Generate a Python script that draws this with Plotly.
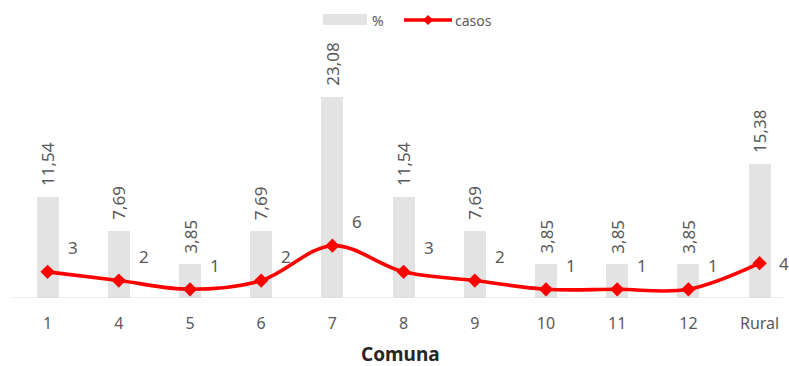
import plotly.graph_objects as go

comunas = ["1", "4", "5", "6", "7", "8", "9", "10", "11", "12", "Rural"]
pct = [11.54, 7.69, 3.85, 7.69, 23.08, 11.54, 7.69, 3.85, 3.85, 3.85, 15.38]
casos = [3, 2, 1, 2, 6, 3, 2, 1, 1, 1, 4]

def fmt(v):
    return f"{v:.2f}".replace(".", ",")

FONT = "Noto Sans"
GRAY = "#595959"
W, H = 789, 366
# plot area in page pixels
PL, PR, PT, PB = 12, 789, 40, 298
ML, MR, MT, MB = PL, W - PR, PT, H - PB
PW, PH = PR - PL, PB - PT
STEP = 71.2  # pixels per category

def px(x):
    return (x - PL) / PW

def py(y):
    return (PB - y) / PH

fig = go.Figure()
fig.add_trace(go.Bar(
    x=list(range(len(comunas))), y=pct, name="%",
    marker=dict(color="#e3e3e3", line=dict(width=0)),
    width=0.31, showlegend=False, hoverinfo="y",
))
fig.add_trace(go.Scatter(
    x=list(range(len(comunas))), y=casos, name="casos", mode="lines+markers",
    line=dict(color="#ff0000", width=3.6, shape="spline", smoothing=1),
    marker=dict(symbol="diamond", size=11, color="#ff0000"),
    cliponaxis=False, showlegend=False,
))
for i, v in enumerate(pct):
    fig.add_annotation(x=i, y=v, text=fmt(v), showarrow=False, textangle=-90,
                       xanchor="center", yanchor="bottom", yshift=9,
                       font=dict(family=FONT, size=17, color=GRAY))
for i, v in enumerate(casos):
    last = i == len(casos) - 1
    fig.add_annotation(x=i, y=v, text=str(v), showarrow=False,
                       xshift=17 if last else 25, yshift=0 if last else 24,
                       xanchor="left" if last else "center",
                       font=dict(family=FONT, size=17, color=GRAY))

# custom legend
fig.add_shape(type="rect", xref="paper", yref="paper",
              x0=px(323), x1=px(367), y0=py(25), y1=py(14),
              fillcolor="#e3e3e3", line=dict(width=0))
fig.add_annotation(xref="paper", yref="paper", x=px(370), y=py(20), text="%",
                   showarrow=False, xanchor="left", yanchor="middle",
                   font=dict(family=FONT, size=14, color=GRAY))
fig.add_shape(type="line", xref="paper", yref="paper",
              x0=px(404), x1=px(452), y0=py(20), y1=py(20),
              line=dict(color="#ff0000", width=3.6))
cx, cy, r = 428, 20, 5
fig.add_shape(type="path", xref="paper", yref="paper",
              path=f"M {px(cx-r)} {py(cy)} L {px(cx)} {py(cy-r)} L {px(cx+r)} {py(cy)} L {px(cx)} {py(cy+r)} Z",
              fillcolor="#ff0000", line=dict(width=0))
fig.add_annotation(xref="paper", yref="paper", x=px(453), y=py(20), text="casos",
                   showarrow=False, xanchor="left", yanchor="middle",
                   font=dict(family=FONT, size=14, color=GRAY))
# axis title
fig.add_annotation(xref="paper", yref="paper", x=px(400), y=py(354), text="<b>Comuna</b>",
                   showarrow=False, xanchor="center", yanchor="middle",
                   font=dict(family=FONT, size=19, color="#262626"))
# axis baseline (ends a little before the right edge, like the reference)
fig.add_shape(type="line", xref="paper", yref="y",
              x0=0, x1=px(785), y0=0, y1=0,
              line=dict(color="#d9d9d9", width=1))

fig.update_layout(
    width=W, height=H,
    margin=dict(l=ML, r=MR, t=MT, b=MB, autoexpand=False),
    paper_bgcolor="white", plot_bgcolor="white",
    font=dict(family=FONT, color=GRAY),
    bargap=0,
    showlegend=False,
    xaxis=dict(range=[-0.5, -0.5 + PW / STEP], automargin=False,
               tickmode="array", tickvals=list(range(len(comunas))), ticktext=comunas,
               showline=False, ticks="", showgrid=False, zeroline=False,
               ticklabelstandoff=14,
               tickfont=dict(family=FONT, size=16, color=GRAY)),
    yaxis=dict(range=[0, 29.6], visible=False, showgrid=False, zeroline=False, automargin=False),
)
fig.write_html("out.html", config={"displayModeBar": False},
               post_script="document.body.style.margin='0';document.body.style.overflow='hidden';")
